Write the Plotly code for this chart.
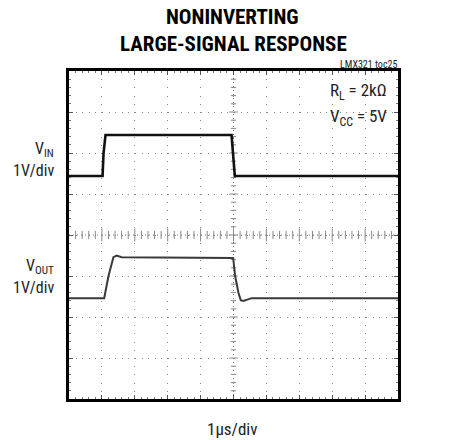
import plotly.graph_objects as go

# ---- data (time in µs / divisions, voltage in screen divisions) ----
vin_t = [0.0, 1.02, 1.05, 1.11, 4.94, 4.98, 5.04, 10.0]
vin_v = [5.44, 5.44, 6.0, 6.44, 6.44, 6.0, 5.44, 5.44]

vout_t = [0.0, 1.07, 1.2, 1.35, 1.45, 1.6, 4.99, 5.05, 5.15, 5.22, 5.30, 5.55, 10.0]
vout_v = [2.46, 2.46, 3.0, 3.46, 3.50, 3.46, 3.44, 3.0, 2.59, 2.41, 2.39, 2.46, 2.46]

x_divs = 10
y_divs = 8

FONT = "Liberation Sans Narrow, Arial Narrow, Roboto Condensed, DejaVu Sans Condensed, sans-serif"

# plot area in pixels
L, R, T, B = 69, 398, 71, 399
W, H = 456, 440


def px(x):
    return (x - L) / (R - L)


def py(y):
    return (B - y) / (B - T)


fig = go.Figure()
fig.add_trace(go.Scatter(x=vin_t, y=vin_v, mode="lines",
                         line=dict(color="#111111", width=2.6), hoverinfo="skip"))
fig.add_trace(go.Scatter(x=vout_t, y=vout_v, mode="lines",
                         line=dict(color="#3a3a3a", width=2), hoverinfo="skip"))

shapes = []
# center cross (dotted, darker)
shapes.append(dict(type="line", xref="x", yref="y", x0=x_divs / 2, x1=x_divs / 2, y0=0, y1=y_divs,
                   line=dict(color="#777777", width=1, dash="1px,3px"), layer="below"))
shapes.append(dict(type="line", xref="x", yref="y", x0=0, x1=x_divs, y0=y_divs / 2, y1=y_divs / 2,
                   line=dict(color="#777777", width=1, dash="1px,3px"), layer="below"))
# minor ticks on the center cross
for i in range(1, x_divs * 5):
    xv = i * 0.2
    h = 0.1 if i % 5 else 0.16
    shapes.append(dict(type="line", xref="x", yref="y", x0=xv, x1=xv,
                       y0=y_divs / 2 - h, y1=y_divs / 2 + h,
                       line=dict(color="#888888", width=1), layer="below"))
for i in range(1, y_divs * 5):
    yv = i * 0.2
    h = 0.08 if i % 5 else 0.13
    shapes.append(dict(type="line", xref="x", yref="y", x0=x_divs / 2 - h, x1=x_divs / 2 + h,
                       y0=yv, y1=yv,
                       line=dict(color="#888888", width=1), layer="below"))


def note(text, x, y, size=16, anchor="right", color="#222"):
    return dict(text=text, x=px(x), y=py(y), xref="paper", yref="paper",
                showarrow=False, font=dict(size=size, family=FONT, color=color),
                xanchor=anchor, yanchor="middle")


annotations = [
    note("<b>NONINVERTING</b>", 232, 17, size=21, anchor="center", color="black"),
    note("<b>LARGE-SIGNAL RESPONSE</b>", 233, 44, size=21, anchor="center", color="black"),
    note("LMX321 toc25", 399, 64, size=10),
    note("R<sub>L</sub> = 2kΩ", 389, 92, size=17),
    note("V<sub>CC</sub> = 5V", 389, 117, size=17),
    note("V<sub>IN</sub>", 56, 149, size=16),
    note("1V/div", 56, 170, size=16),
    note("V<sub>OUT</sub>", 56, 266, size=16),
    note("1V/div", 56, 287, size=16),
    note("1µs/div", 232, 429, size=17, anchor="center"),
]

axis_common = dict(
    showline=True, linewidth=3, linecolor="black", mirror="ticks",
    ticks="inside", ticklen=4, tickcolor="#555", tickwidth=1,
    showticklabels=False, zeroline=False, showgrid=True, gridcolor="#8a8a8a", gridwidth=1,
    dtick=1, tick0=0,
    minor=dict(ticks="inside", ticklen=2, tickcolor="#777", dtick=0.2, showgrid=False),
    fixedrange=True,
)

fig.update_layout(
    width=W, height=H,
    margin=dict(l=L, r=W - R, t=T, b=H - B),
    paper_bgcolor="white", plot_bgcolor="white",
    showlegend=False,
    xaxis=dict(range=[0, x_divs], griddash="1px,7.2px", **axis_common),
    yaxis=dict(range=[0, y_divs], griddash="1px,5.6px", **axis_common),
    shapes=shapes,
    annotations=annotations,
)

fig.write_html("out.html", config={"displayModeBar": False},
               post_script="document.body.style.margin='0px';document.body.style.padding='0px';")
